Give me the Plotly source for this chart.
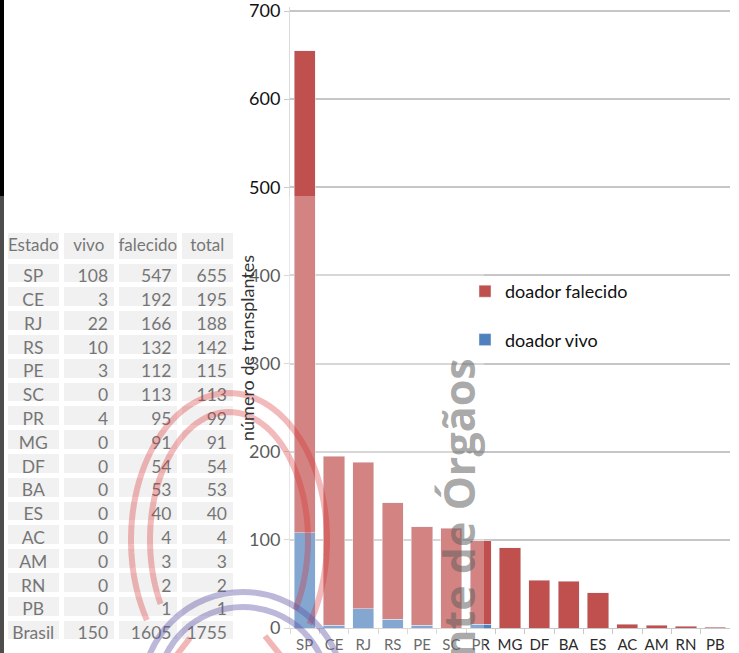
import numpy as np
import plotly.graph_objects as go

W, H = 739, 653

# ---------------- data ----------------
estados = ["SP", "CE", "RJ", "RS", "PE", "SC", "PR", "MG", "DF", "BA", "ES", "AC", "AM", "RN", "PB"]
vivo = [108, 3, 22, 10, 3, 0, 4, 0, 0, 0, 0, 0, 0, 0, 0]
falecido = [547, 192, 166, 132, 112, 113, 95, 91, 54, 53, 40, 4, 3, 2, 1]
total = [655, 195, 188, 142, 115, 113, 99, 91, 54, 53, 40, 4, 3, 2, 1]
brasil_label = "Brasil"
brasil_vivo = 150
brasil_falecido = 1605
brasil_total = 1755
table_header = ["Estado", "vivo", "falecido", "total"]
y_max = 700
y_step = 100

# -------------- helpers (pixel -> paper) --------------
def px(x):
    return x / W

def py(y):
    return 1 - y / H

C_FAL = "#C0504D"
C_VIV = "#4F81BD"
FONT = "Lato"

fig = go.Figure()

fig.add_trace(go.Bar(x=estados, y=vivo, name="doador vivo", marker_color=C_VIV,
                     legendgroup="v", legendrank=2))
fig.add_trace(go.Bar(x=estados, y=falecido, name="doador falecido", marker_color=C_FAL,
                     legendgroup="f", legendrank=1))

fig.add_trace(go.Table(
    domain=dict(x=[px(5), px(236)], y=[py(643), py(230)]),
    columnwidth=[57, 55, 64, 56],
    header=dict(values=table_header, fill_color="#EBEBEB", line=dict(color="white", width=5),
                align="center", height=31,
                font=dict(family=FONT, size=17, color="#3a3a3a")),
    cells=dict(values=[estados + [brasil_label],
                       vivo + [brasil_vivo],
                       falecido + [brasil_falecido],
                       total + [brasil_total]],
               fill_color="#EBEBEB", line=dict(color="white", width=5),
               align=["center", "right", "right", "right"], height=23.8,
               font=dict(family=FONT, size=17.5, color="#3a3a3a")),
))

shapes = []
# black left stripe
shapes.append(dict(type="rect", xref="paper", yref="paper", x0=px(0), x1=px(4), y0=py(653), y1=py(0),
                   fillcolor="black", line=dict(width=0), layer="above"))
# translucent white overlay (photo glare)
shapes.append(dict(type="rect", xref="paper", yref="paper", x0=px(0), x1=px(484), y0=py(653), y1=py(196),
                   fillcolor="rgba(255,255,255,0.30)", line=dict(width=0), layer="above"))

# logo: red elliptical arcs
def ell_path(cx, cy, rx, ry, t0, t1, n=80):
    t = np.radians(np.linspace(t0, t1, n))
    xs = cx + rx * np.cos(t)
    ys = cy - ry * np.sin(t)
    pts = [f"{px(a):.5f},{py(b):.5f}" for a, b in zip(xs, ys)]
    return "M " + " L ".join(pts)

shapes.append(dict(type="path", xref="paper", yref="paper", path=ell_path(229, 540, 98, 147, -35, 213),
                   line=dict(color="rgba(215,45,45,0.33)", width=6), layer="above"))
shapes.append(dict(type="path", xref="paper", yref="paper", path=ell_path(229, 540, 79, 128, -33, 210),
                   line=dict(color="rgba(215,45,45,0.33)", width=6), layer="above"))
# small red strokes at bottom
shapes.append(dict(type="path", xref="paper", yref="paper",
                   path=f"M {px(176)},{py(656)} L {px(190)},{py(638)}",
                   line=dict(color="rgba(215,45,45,0.35)", width=6), layer="above"))
shapes.append(dict(type="path", xref="paper", yref="paper",
                   path=f"M {px(265)},{py(636)} L {px(281)},{py(656)}",
                   line=dict(color="rgba(215,45,45,0.35)", width=6), layer="above"))
# logo: purple circular arcs
for r in (101, 86):
    shapes.append(dict(type="circle", xref="paper", yref="paper",
                       x0=px(243 - r), x1=px(243 + r), y0=py(693 + r), y1=py(693 - r),
                       line=dict(color="rgba(95,85,165,0.42)", width=6), layer="above"))

annotations = [
    dict(text="número de transplantes", xref="paper", yref="paper",
         x=px(247), y=py(348), xanchor="center", yanchor="middle", textangle=-90, showarrow=False,
         font=dict(family=FONT, size=18, color="#333")),
    dict(text="<b>Transplante de Órgãos</b>", xref="paper", yref="paper",
         x=px(458), y=py(356), xanchor="center", yanchor="top", textangle=-90, showarrow=False,
         font=dict(family="Open Sans", size=43, color="rgba(95,95,95,0.55)")),
]

# y axis: 0 at pixel 628, 700 at pixel 11 -> extend range a little above 700
y_top = 705
ppu = (628 - 11) / y_max
fig.update_layout(
    width=W, height=H,
    margin=dict(l=0, r=0, t=0, b=0, autoexpand=False),
    paper_bgcolor="white", plot_bgcolor="white",
    barmode="stack", bargap=0.28,
    font=dict(family=FONT, size=17, color="#222"),
    showlegend=True,
    legend=dict(x=px(465), y=py(273), xanchor="left", yanchor="top",
                traceorder="grouped", tracegroupgap=22,
                font=dict(family=FONT, size=18, color="#111"), bgcolor="rgba(0,0,0,0)"),
    xaxis=dict(domain=[px(290), px(730)], showgrid=False, showline=True, linecolor="#c8c8c8",
               automargin=False, tickangle=0, ticklabelstandoff=3,
               ticks="outside", tickson="boundaries", ticklen=5, tickcolor="#c8c8c8",
               tickfont=dict(family=FONT, size=15, color="#2a2a2a")),
    yaxis=dict(domain=[py(628), py(628 - y_top * ppu)], range=[0, y_top],
               tickmode="linear", tick0=0, dtick=y_step, automargin=False, ticklabeloverflow="allow",
               showgrid=True, gridcolor="#c6c6c6", gridwidth=1.5,
               showline=True, linecolor="#dcdcdc", ticks="outside", ticklen=5, tickcolor="#c8c8c8",
               tickfont=dict(family=FONT, size=18, color="#111")),
    shapes=shapes,
    annotations=annotations,
)

fig.write_html("out.html", post_script="document.body.style.margin='0';",
               config={"displayModeBar": False})
